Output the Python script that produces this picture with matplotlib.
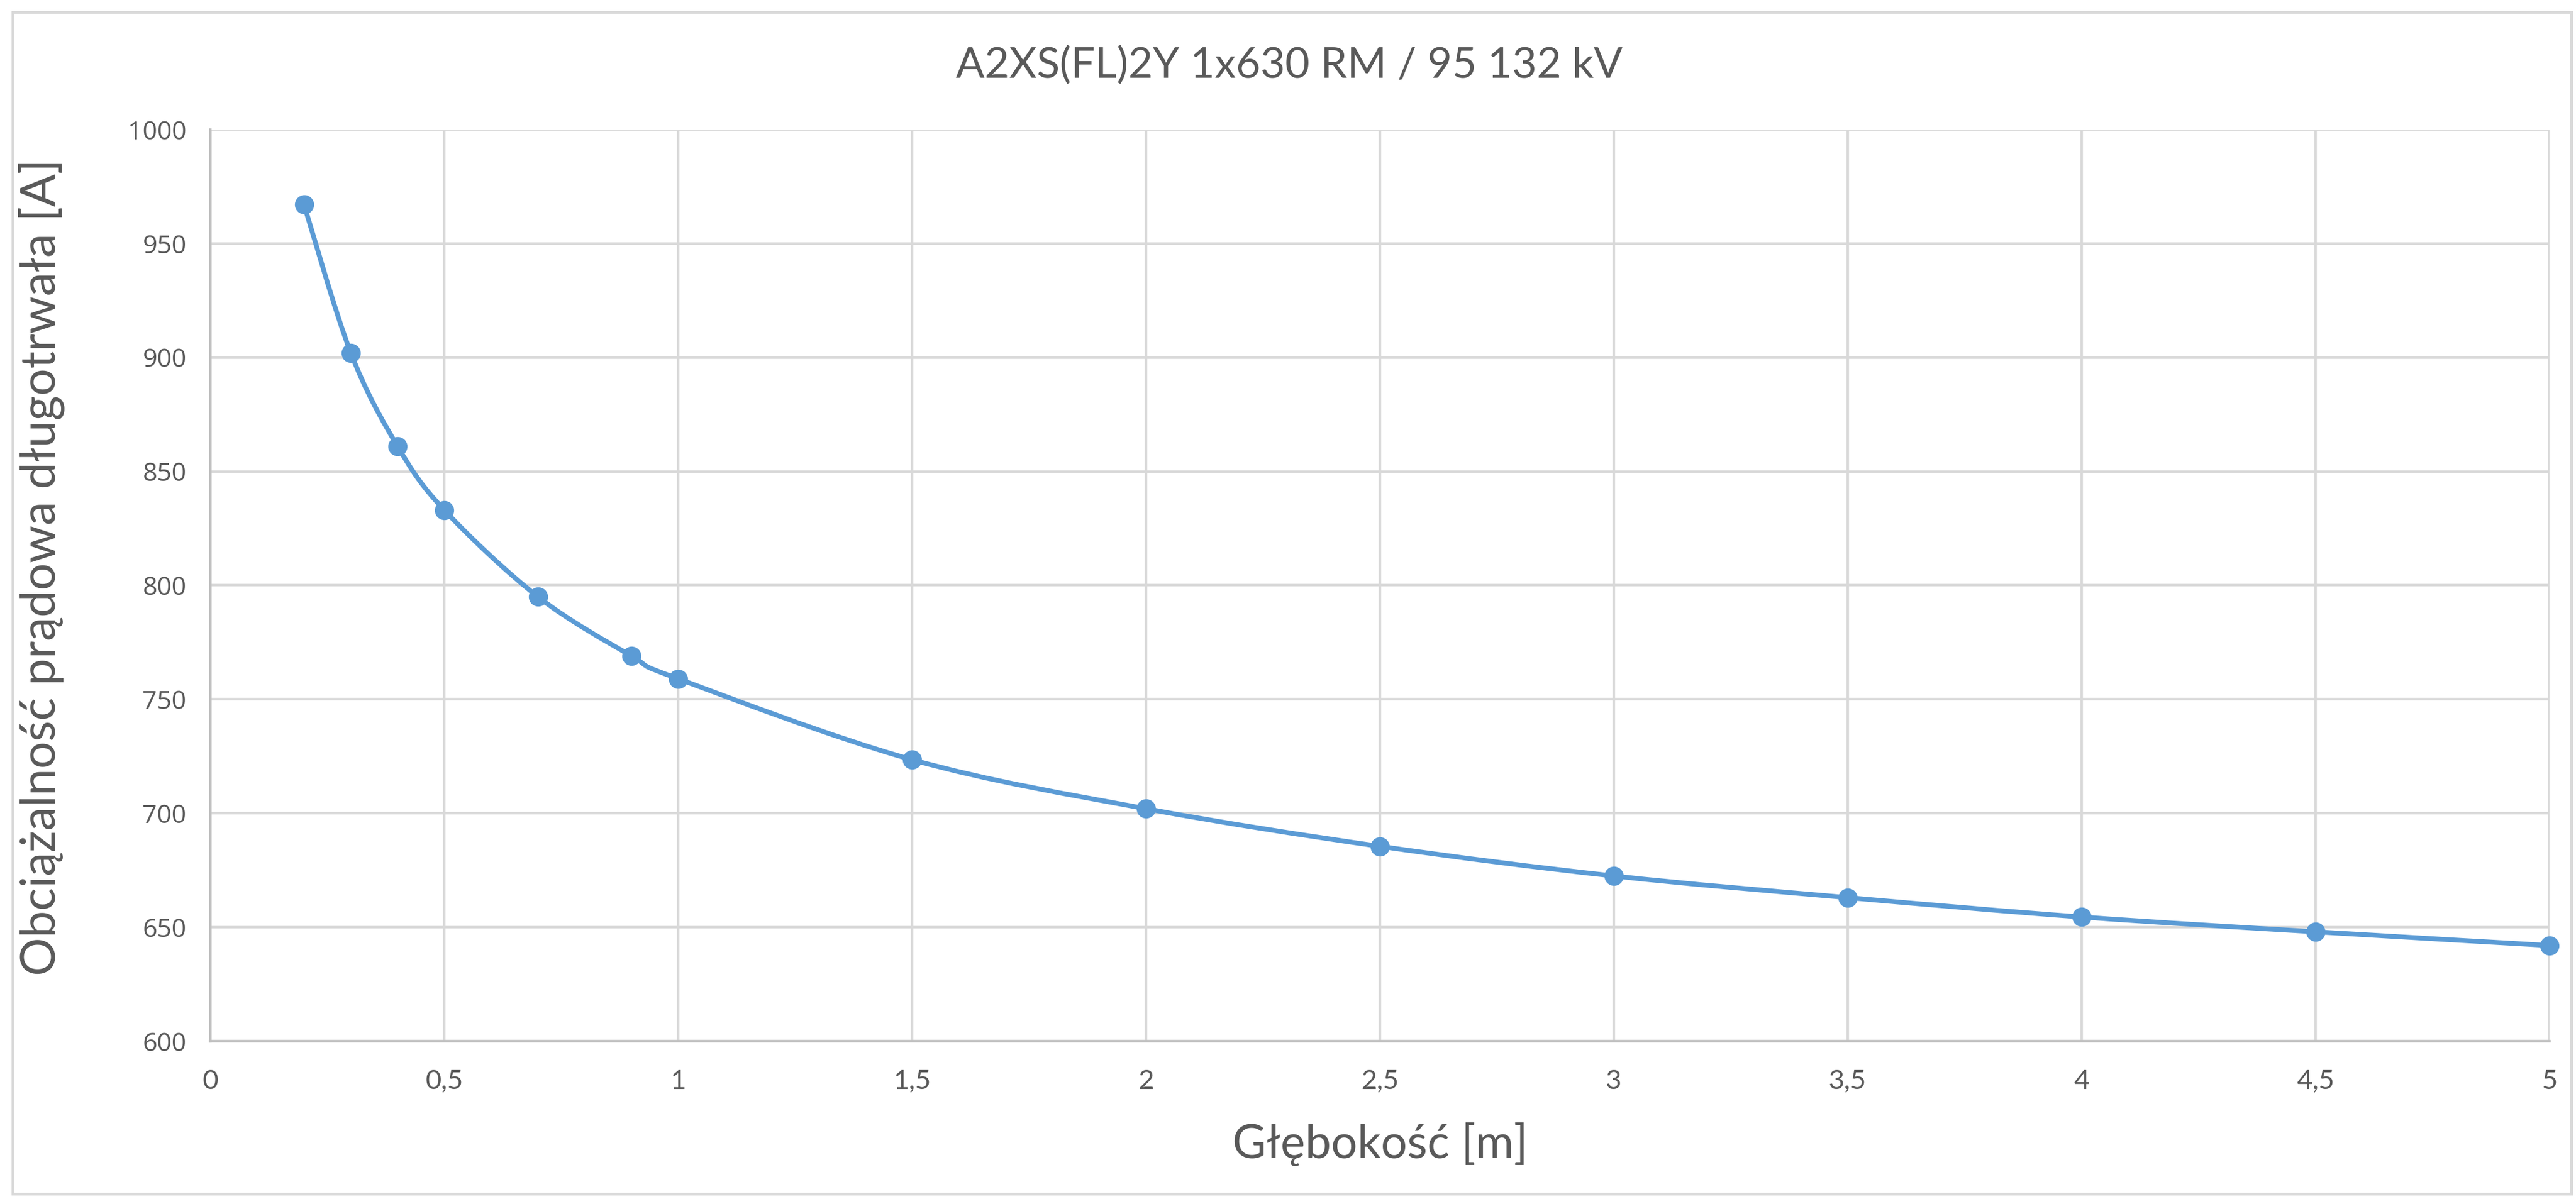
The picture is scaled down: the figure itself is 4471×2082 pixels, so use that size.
import matplotlib
matplotlib.use("Agg")
import matplotlib.pyplot as plt
from matplotlib.path import Path
from matplotlib.patches import PathPatch, Rectangle
from matplotlib.ticker import FuncFormatter
import numpy as np

# ---- data ----
depth_m = [0.2, 0.3, 0.4, 0.5, 0.7, 0.9, 1.0, 1.5, 2.0, 2.5, 3.0, 3.5, 4.0, 4.5, 5.0]
current_a = [967, 902, 861, 833, 795, 769, 759, 723.5, 702, 685.5, 672.5, 663, 654.5, 648, 642]
title = "A2XS(FL)2Y 1x630 RM / 95 132 kV"
xlabel = "Głębokość [m]"
ylabel = "Obciążalność prądowa długotrwała [A]"
x_ticks = [0, 0.5, 1, 1.5, 2, 2.5, 3, 3.5, 4, 4.5, 5]
y_ticks = [600, 650, 700, 750, 800, 850, 900, 950, 1000]

LINE = "#5B9BD5"
GRID = "#D9D9D9"
AXIS = "#BFBFBF"
TEXT = "#595959"
FONT = ["Lato", "DejaVu Sans"]

fig = plt.figure(figsize=(44.71, 20.82), dpi=100)
ax = fig.add_axes([0.0817, 0.1316, 0.9897 - 0.0817, 0.892 - 0.1316])

# smoothed line (Excel-like bezier through the data points)
xs = np.asarray(depth_m, float)
ys = np.asarray(current_a, float)
n = len(xs)
verts = [(xs[0], ys[0])]
codes = [Path.MOVETO]
for i in range(n - 1):
    p0 = np.array([xs[max(i - 1, 0)], ys[max(i - 1, 0)]])
    p1 = np.array([xs[i], ys[i]])
    p2 = np.array([xs[i + 1], ys[i + 1]])
    p3 = np.array([xs[min(i + 2, n - 1)], ys[min(i + 2, n - 1)]])
    c1 = p1 + (p2 - p0) / 6.0
    c2 = p2 - (p3 - p1) / 6.0
    verts += [tuple(c1), tuple(c2), tuple(p2)]
    codes += [Path.CURVE4] * 3
ax.add_patch(PathPatch(Path(verts, codes), facecolor="none", edgecolor=LINE,
                       lw=6, capstyle="round", joinstyle="round", zorder=3,
                       clip_on=False))
ax.plot(depth_m, current_a, linestyle="none", marker="o", markersize=23,
        color=LINE, zorder=4, clip_on=False)

ax.set_xlim(0, 5)
ax.set_ylim(600, 1000)
ax.set_xticks(x_ticks)
ax.set_yticks(y_ticks)
ax.xaxis.set_major_formatter(FuncFormatter(lambda v, p: (f"{v:g}").replace(".", ",")))
ax.grid(True, color=GRID, lw=3.2, zorder=0)
ax.set_axisbelow(True)
for s in ["top", "right"]:
    ax.spines[s].set_visible(False)
for s in ["left", "bottom"]:
    ax.spines[s].set_color(AXIS)
    ax.spines[s].set_linewidth(3.2)
ax.tick_params(axis="both", length=0, colors=TEXT)
ax.tick_params(axis="x", pad=35, labelsize=34)
ax.tick_params(axis="y", pad=30, labelsize=32)
for lab in ax.get_xticklabels():
    lab.set_family(FONT)
for lab in ax.get_yticklabels():
    lab.set_family(["Open Sans", "DejaVu Sans"])

ax.set_xlabel(xlabel, fontsize=58, color=TEXT, family=FONT, labelpad=36)
ax.set_ylabel(ylabel, fontsize=60, color=TEXT, family=FONT)
ax.yaxis.set_label_coords(-0.0625, 0.52)
fig.text(0.5005, 0.945, title, ha="center", va="center", fontsize=53,
         color=TEXT, family=FONT)

fig.patches.append(Rectangle((22 / 4471, 9 / 2082), 1 - 30 / 4471, 1 - 30 / 2082,
                             transform=fig.transFigure, fill=False,
                             edgecolor=GRID, lw=3.5))

fig.savefig("out.png", dpi=100, facecolor="white")
